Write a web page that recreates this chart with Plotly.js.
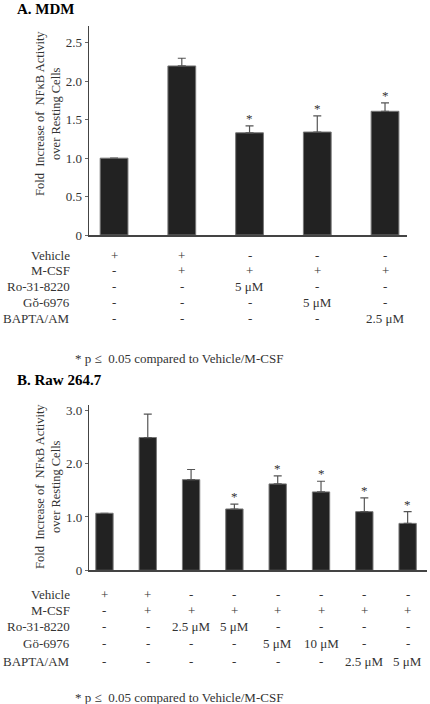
<!DOCTYPE html>
<html>
<head>
<meta charset="utf-8">
<script src="https://cdn.plot.ly/plotly-3.0.1.min.js"></script>
<style>html,body{margin:0;padding:0;background:#fff;}#chart{width:430px;height:704px;}</style>
</head>
<body>
<div id="chart"></div>
<script>
// ---- Data ----
var rowLabels = ['Vehicle', 'M-CSF', 'Ro-31-8220', 'G\u014F-6976', 'BAPTA/AM'];
var rowLabelsB = ['Vehicle', 'M-CSF', 'Ro-31-8220', 'G\u00F6-6976', 'BAPTA/AM'];

var catsA = ['A1', 'A2', 'A3', 'A4', 'A5'];
var valuesA = [1.00, 2.20, 1.33, 1.34, 1.61];
var errTopA = [null, 2.30, 1.42, 1.55, 1.72];
var sigA = [false, false, true, true, true];
var tableA = [
  ['+', '+', '-', '-', '-'],
  ['-', '+', '+', '+', '+'],
  ['-', '-', '5 \u03BCM', '-', '-'],
  ['-', '-', '-', '5 \u03BCM', '-'],
  ['-', '-', '-', '-', '2.5 \u03BCM']
];
var tickValsA = [0, 0.5, 1.0, 1.5, 2.0, 2.5];
var tickTextA = ['0', '0.5', '1.0', '1.5', '2.0', '2.5'];

var catsB = ['B1', 'B2', 'B3', 'B4', 'B5', 'B6', 'B7', 'B8'];
var valuesB = [1.07, 2.49, 1.70, 1.15, 1.62, 1.47, 1.10, 0.88];
var errTopB = [null, 2.93, 1.89, 1.24, 1.77, 1.67, 1.36, 1.10];
var sigB = [false, false, false, true, true, true, true, true];
var tableB = [
  ['+', '+', '-', '-', '-', '-', '-', '-'],
  ['-', '+', '+', '+', '+', '+', '+', '+'],
  ['-', '-', '2.5 \u03BCM', '5 \u03BCM', '-', '-', '-', '-'],
  ['-', '-', '-', '-', '5 \u03BCM', '10 \u03BCM', '-', '-'],
  ['-', '-', '-', '-', '-', '-', '2.5 \u03BCM', '5 \u03BCM']
];
var tickValsB = [0, 1.0, 2.0, 3.0];
var tickTextB = ['0', '1.0', '2.0', '3.0'];

var yTitle = 'Fold\u00A0 Increase of\u00A0 NF\u03BAB Activity<br>over Resting Cells';
var footnote = '* p \u2264\u00A0 0.05 compared to Vehicle/M-CSF';

// ---- Layout helpers ----
var W = 430, H = 704;
function py(pix) { return 1 - pix / H; }
function px(pix) { return pix / W; }

var FONT = 'Liberation Serif';
var TXT = '#333';

function barTrace(cats, vals, tops, xa, ya, width) {
  return {
    type: 'bar', x: cats, y: vals, xaxis: xa, yaxis: ya, width: width,
    marker: {color: '#222', line: {color: '#777', width: 1}},
    error_y: {
      type: 'data', symmetric: false,
      array: tops.map(function (t, i) { return t === null ? NaN : t - vals[i]; }),
      arrayminus: vals.map(function () { return 0; }),
      color: '#555', thickness: 1.2, width: 4
    },
    hoverinfo: 'skip', showlegend: false
  };
}

var data = [
  barTrace(catsA, valuesA, errTopA, 'x', 'y', 0.41),
  barTrace(catsB, valuesB, errTopB, 'x2', 'y2', 0.40)
];

var ann = [];
function addText(o) {
  var base = {showarrow: false, font: {family: FONT, size: 13, color: TXT}};
  for (var k in o) base[k] = o[k];
  ann.push(base);
}

// titles
addText({text: '<b>A. MDM</b>', xref: 'paper', yref: 'paper', x: px(15), y: py(9), xanchor: 'left', yanchor: 'middle', font: {family: FONT, size: 15, color: '#000'}});
addText({text: '<b>B. Raw 264.7</b>', xref: 'paper', yref: 'paper', x: px(15), y: py(380), xanchor: 'left', yanchor: 'middle', font: {family: FONT, size: 15, color: '#000'}});

// y titles
addText({text: yTitle, xref: 'paper', yref: 'paper', x: px(48), y: py(114), textangle: -90, xanchor: 'center', yanchor: 'middle', font: {family: FONT, size: 12.5, color: TXT}});
addText({text: yTitle, xref: 'paper', yref: 'paper', x: px(48), y: py(487), textangle: -90, xanchor: 'center', yanchor: 'middle', font: {family: FONT, size: 12.5, color: TXT}});

// stars
function addStars(cats, tops, sig, xr, yr) {
  cats.forEach(function (c, i) {
    if (sig[i]) addText({text: '*', xref: xr, yref: yr, x: c, y: tops[i], xanchor: 'center', yanchor: 'bottom', yshift: -2, font: {family: FONT, size: 13, color: '#333'}});
  });
}
addStars(catsA, errTopA, sigA, 'x', 'y');
addStars(catsB, errTopB, sigB, 'x2', 'y2');

// tables
var rowYA = [255, 270.5, 286, 302, 318.5];
var rowYB = [594, 610, 626, 643.5, 661.5];
function addTable(labels, table, cats, xr, rowY) {
  labels.forEach(function (lab, r) {
    addText({text: lab, xref: 'paper', yref: 'paper', x: px(72), y: py(rowY[r]), xanchor: 'right', yanchor: 'middle'});
    table[r].forEach(function (v, c) {
      addText({text: v, xref: xr, yref: 'paper', x: cats[c], y: py(rowY[r]), xanchor: 'center', yanchor: 'middle'});
    });
  });
}
addTable(rowLabels, tableA, catsA, 'x', rowYA);
addTable(rowLabelsB, tableB, catsB, 'x2', rowYB);

// footnotes
addText({text: footnote, xref: 'paper', yref: 'paper', x: px(72.5), y: py(358), xanchor: 'left', yanchor: 'middle'});
addText({text: footnote, xref: 'paper', yref: 'paper', x: px(72.5), y: py(697), xanchor: 'left', yanchor: 'middle'});

var xCommon = {type: 'category', showticklabels: false, ticks: '', showgrid: false, zeroline: false, showline: true, linecolor: '#444', linewidth: 1.5, fixedrange: true};
var yCommon = {showgrid: false, zeroline: false, showline: true, linecolor: '#444', linewidth: 1.5, ticks: 'outside', ticklen: 3, tickwidth: 1, tickcolor: '#666', tickmode: 'array', tickfont: {family: FONT, size: 13, color: TXT}, fixedrange: true};

function merge(a, b) { var o = {}; for (var k in a) o[k] = a[k]; for (var k2 in b) o[k2] = b[k2]; return o; }

var layout = {
  width: W, height: H,
  margin: {l: 0, r: 0, t: 0, b: 0},
  paper_bgcolor: '#fff', plot_bgcolor: '#fff',
  font: {family: FONT},
  showlegend: false,
  xaxis: merge(xCommon, {domain: [px(89), px(406.7)], range: [-0.37, 4.32], anchor: 'y'}),
  yaxis: merge(yCommon, {domain: [py(235), py(26)], range: [0, 2.72], tickvals: tickValsA, ticktext: tickTextA, anchor: 'x'}),
  xaxis2: merge(xCommon, {domain: [px(89.3), px(426.7)], range: [-0.35, 7.44], anchor: 'y2'}),
  yaxis2: merge(yCommon, {domain: [py(570.3), py(405)], range: [0, 3.1], tickvals: tickValsB, ticktext: tickTextB, anchor: 'x2'}),
  annotations: ann
};

Plotly.newPlot('chart', data, layout, {displayModeBar: false, staticPlot: true});
</script>
</body>
</html>
